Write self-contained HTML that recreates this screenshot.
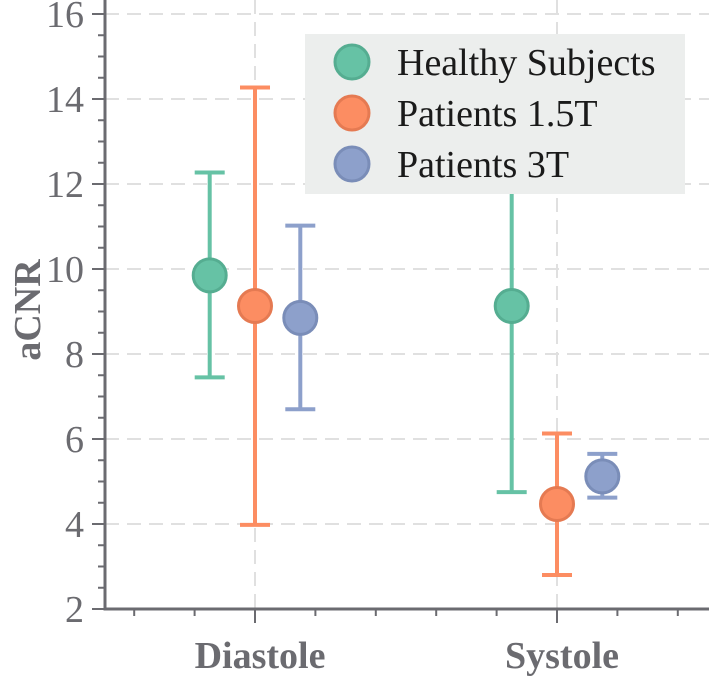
<!DOCTYPE html>
<html><head><meta charset="utf-8"><style>
body{margin:0;background:#fff}
svg{display:block;font-family:"Liberation Serif",serif}
</style></head><body>
<svg id="c" width="709" height="676"></svg>
<script>
const categories=["Diastole","Systole"];
const series=["Healthy Subjects","Patients 1.5T","Patients 3T"];
const colors=["#66c2a5","#fc8d62","#8da0cb"];
const strokes=["#55ad91","#e57a52","#7a8db8"];
const means=[[9.85,9.13],[9.13,4.47],[8.85,5.12]];
const lows=[[7.45,4.75],[3.98,2.8],[6.7,4.62]];
const highs=[[12.27,13.5],[14.27,6.13],[11.02,5.65]];
const yTicks=[2,4,6,8,10,12,14,16];
const offsets=[-0.15,0,0.15];
const NS="http://www.w3.org/2000/svg";
const svg=document.getElementById('c');
const X=v=>255+v*302, Y=v=>609-(v-2)*42.5;
function el(t,a,p){const e=document.createElementNS(NS,t);for(const k in a)e.setAttribute(k,a[k]);(p||svg).appendChild(e);return e;}
yTicks.forEach(t=>{if(t>2){const g=el('line',{x1:105,x2:709,y1:Y(t),y2:Y(t),stroke:'#e0e0e0','stroke-width':2,'stroke-dasharray':'14,8'});

}});
categories.forEach((c,i)=>{const g=el('line',{x1:X(i),x2:X(i),y1:0,y2:609,stroke:'#e0e0e0','stroke-width':2,'stroke-dasharray':'14,8'});

});
const ax=el('path',{d:'M105,0V609H709',fill:'none',stroke:'#6b6b70','stroke-width':3});


for(let v=2;v<=16.001;v+=0.5){const maj=Math.abs(v-Math.round(v/2)*2)<1e-6;
const t=el('line',{x1:maj?92:98,x2:105,y1:Y(v),y2:Y(v),stroke:'#6b6b70','stroke-width':2});

}
yTicks.forEach(t=>{const tx=el('text',{x:84,y:Y(t)+13,'text-anchor':'end','font-size':38,fill:'#6b6b70'});tx.textContent=t;

});
for(let v=-0.4;v<=1.41;v+=0.2){const maj=Math.abs(v)<1e-6||Math.abs(v-1)<1e-6;
const t=el('line',{x1:X(v),x2:X(v),y1:609,y2:maj?623:616,stroke:'#6b6b70','stroke-width':2});

}
categories.forEach((c,i)=>{const tx=el('text',{x:X(i)+5,y:668,'text-anchor':'middle','font-size':38,'font-weight':'bold',fill:'#6b6b70'});tx.textContent=c;

});
const yl=el('text',{transform:'translate(40,310) rotate(-90)','text-anchor':'middle','font-size':38,'font-weight':'bold',fill:'#6b6b70'});yl.textContent='aCNR';


series.forEach((s,si)=>{categories.forEach((c,ci)=>{
const x=X(ci+offsets[si]);
const g=el('g',{});


el('line',{x1:x,x2:x,y1:Y(lows[si][ci]),y2:Y(highs[si][ci]),stroke:colors[si],'stroke-width':4},g);
[lows[si][ci],highs[si][ci]].forEach(v=>el('line',{x1:x-15,x2:x+15,y1:Y(v),y2:Y(v),stroke:colors[si],'stroke-width':4},g));
el('circle',{cx:x,cy:Y(means[si][ci]),r:16.5,fill:colors[si],stroke:strokes[si],'stroke-width':3},g);
});});
const lg=el('g',{});


el('rect',{x:305,y:34,width:380,height:160,fill:'#eceeed'},lg);
series.forEach((s,i)=>{const e=el('g',{},lg);


el('circle',{cx:352,cy:62+i*51,r:17,fill:colors[i],stroke:strokes[i],'stroke-width':3},e);
const t=el('text',{x:397,y:75+i*51,'font-size':38,fill:'#1a1a1a'},e);t.textContent=s;});
</script>
</body></html>
